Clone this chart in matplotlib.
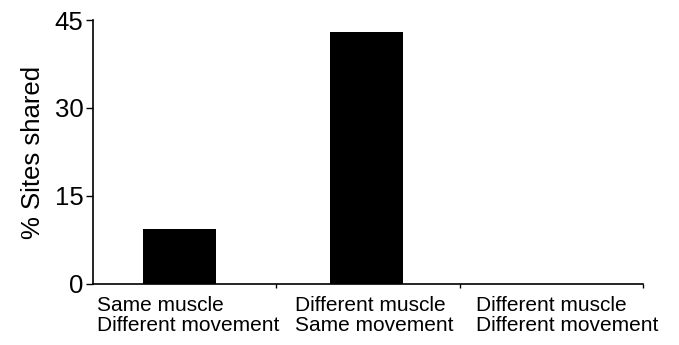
import matplotlib
matplotlib.use("Agg")
import matplotlib.pyplot as plt

plt.rcParams['font.family'] = ['Liberation Sans', 'DejaVu Sans']

categories = ["Same muscle\nDifferent movement",
              "Different muscle\nSame movement",
              "Different muscle\nDifferent movement"]
values = [9.4, 43.0, 0.0]
yticks = [0, 15, 30, 45]

fig = plt.figure(figsize=(6.79, 3.45), dpi=100)
ax = fig.add_axes([0.137, 0.177, 0.81, 0.765])

centers = [0.47, 1.49, 2.5]
ax.bar(centers, values, width=0.4, color='black')
ax.set_xlim(0, 3)
ax.set_ylim(0, 45)
ax.set_yticks(yticks)
ax.set_yticklabels([str(t) for t in yticks], fontsize=18.5)
ax.set_xticks([1, 2, 3])
ax.set_xticklabels([])
ax.tick_params(axis='x', direction='out', length=3, width=1)
ax.tick_params(axis='y', direction='out', length=5, width=1, pad=2)
for s in ['top', 'right']:
    ax.spines[s].set_visible(False)
for s in ['left', 'bottom']:
    ax.spines[s].set_linewidth(1.2)

label_x = [0.02, 1.1, 2.09]
for x, lab in zip(label_x, categories):
    ax.text(x, -2.0, lab, ha='left', va='top', fontsize=15,
            transform=ax.transData, linespacing=1.1)

ax.set_ylabel("% Sites shared", fontsize=18.5, labelpad=7)

fig.savefig("out.png", dpi=100)
